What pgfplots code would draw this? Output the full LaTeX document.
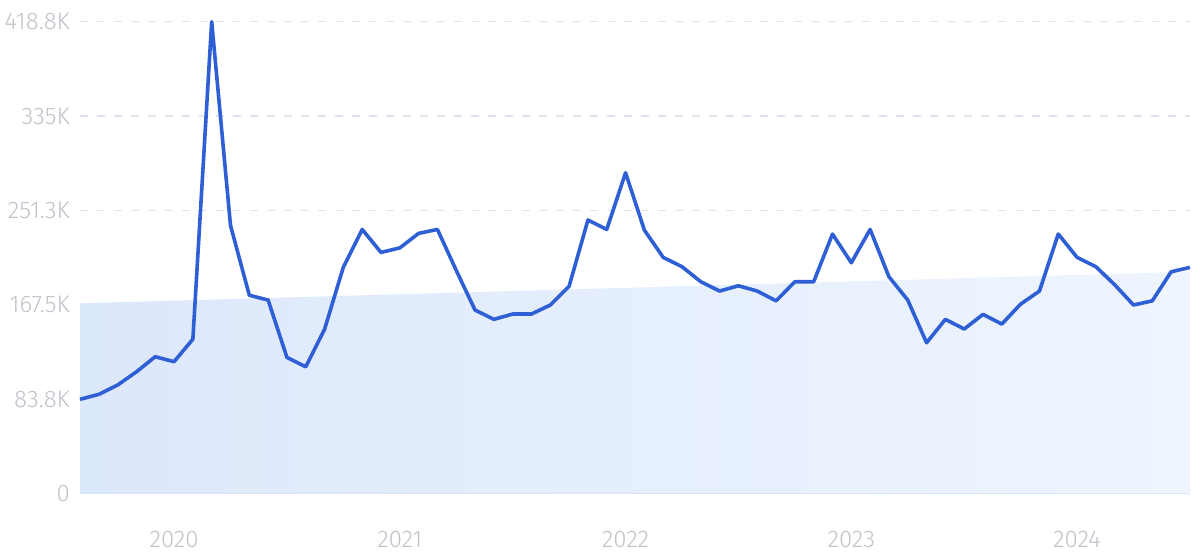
\documentclass[border=0pt]{standalone}
\usepackage{pgfplots}
\pgfplotsset{compat=1.18}
\usepackage{fontspec}
\setmainfont{Fira Sans Light}
\definecolor{linecol}{HTML}{2E5FD4}
\definecolor{gridcol}{HTML}{DEE4EE}
\definecolor{labcol}{HTML}{BFC2CA}
\definecolor{basecol}{HTML}{D3E2F5}
\definecolor{fillL}{HTML}{DCE8FB}
\definecolor{fillR}{HTML}{EFF5FE}
\begin{document}
\begin{tikzpicture}
\begin{axis}[
  at={(0,0)}, anchor=south west,
  scale only axis, width=1110pt, height=471.8pt,
  xmin=0, xmax=59, ymin=0, ymax=418.8,
  axis x line*=bottom, axis y line*=left,
  x axis line style={draw=basecol, line width=1.5pt},
  y axis line style={draw=none},
  xtick={5,17,29,41,53},
  xticklabels={2020,2021,2022,2023,2024},
  ytick={0,83.76,167.52,251.28,335.04,418.8},
  yticklabels={0,83.8K,167.5K,251.3K,335K,418.8K},
  major tick length=0pt,
  ymajorgrids,
  grid style={draw=gridcol, line width=1.3pt, dash pattern=on 8pt off 9pt},
  tick label style={font=\fontsize{24}{28}\selectfont, text=labcol},
  /pgf/number format/assume math mode=true,
  yticklabel style={anchor=east, inner sep=0pt, xshift=-10pt},
  xticklabel style={anchor=center, inner sep=0pt, yshift=-46.5pt},
  clip=false,
]
\addplot[draw=none, left color=fillL, right color=fillR] coordinates {(0,168.8) (59,196.8)} \closedcycle;
\addplot[color=linecol, line width=3.6pt, line join=round] coordinates {
(0,83.6) (1,88.0) (2,96.3) (3,108) (4,121.4) (5,117) (6,137) (7,418.8) (8,238) (9,176)
(10,171.7) (11,120.8) (12,112.5) (13,145.7) (14,201) (15,234.4) (16,214) (17,218) (18,230.9) (19,234.4)
(20,198) (21,162.8) (22,154.6) (23,159.3) (24,159.3) (25,167.3) (26,184) (27,242.7) (28,234.4) (29,284.7)
(30,233.8) (31,209.6) (32,201.3) (33,188) (34,179.7) (35,184.4) (36,179.7) (37,171) (38,188) (39,188)
(40,230.3) (41,204.8) (42,234.4) (43,192.4) (44,171.7) (45,133.8) (46,154.6) (47,146) (48,159) (49,150.4)
(50,168.1) (51,179.7) (52,230.3) (53,209.6) (54,201.3) (55,185.3) (56,167.3) (57,171) (58,196.8) (59,200.7)
};
\end{axis}
\pgfresetboundingbox
\useasboundingbox (-80pt,-59.5pt) rectangle (1120pt,493.5pt);
\end{tikzpicture}
\end{document}
